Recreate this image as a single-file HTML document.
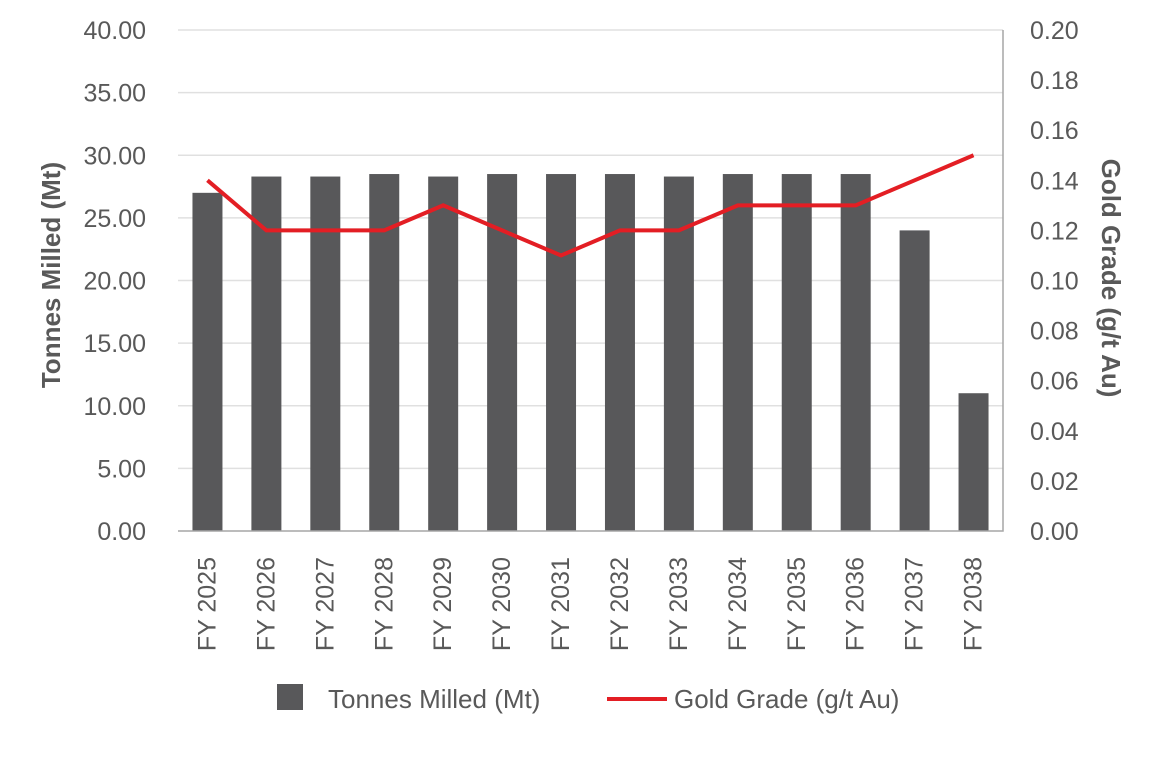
<!DOCTYPE html>
<html><head><meta charset="utf-8"><style>
body{margin:0;background:#fff;font-family:"Liberation Sans",Arial,sans-serif;}
svg text{font-family:"Liberation Sans",Arial,sans-serif;fill:#595959;}
</style></head><body>
<svg id="c" width="1164" height="754"></svg>
<script>
const categories=["FY 2025","FY 2026","FY 2027","FY 2028","FY 2029","FY 2030","FY 2031","FY 2032","FY 2033","FY 2034","FY 2035","FY 2036","FY 2037","FY 2038"];
const tonnes=[27.0,28.3,28.3,28.5,28.3,28.5,28.5,28.5,28.3,28.5,28.5,28.5,24.0,11.0];
const grade=[0.14,0.12,0.12,0.12,0.13,0.12,0.11,0.12,0.12,0.13,0.13,0.13,0.14,0.15];
const leftTicks=["0.00","5.00","10.00","15.00","20.00","25.00","30.00","35.00","40.00"];
const rightTicks=["0.00","0.02","0.04","0.06","0.08","0.10","0.12","0.14","0.16","0.18","0.20"];
const NS="http://www.w3.org/2000/svg";
const svg=document.getElementById('c');
const X0=178,X1=1003,Y0=531,Y1=30;
const bw=(X1-X0)/categories.length;
const yL=v=>Y0-(v/40)*(Y0-Y1);
const yR=v=>Y0-(v/0.2)*(Y0-Y1);
const xC=i=>X0+bw*(i+0.5);
function el(t,a,txt){const e=document.createElementNS(NS,t);for(const k in a)e.setAttribute(k,a[k]);if(txt!=null)e.textContent=txt;svg.appendChild(e);return e;}
leftTicks.forEach(t=>{const v=parseFloat(t);const y=yL(v);
 if(v>0){const g=el('line',{x1:X0,x2:X1,y1:y,y2:y,stroke:'#e0e0e0','stroke-width':1.5});
 
 }
 const tx=el('text',{x:146,y:y+9,'text-anchor':'end','font-size':25},t);
 
 });
rightTicks.forEach(t=>{const y=yR(parseFloat(t));
 const tx=el('text',{x:1030,y:y+9,'font-size':25},t);
 
 });
tonnes.forEach((v,i)=>{const b=el('rect',{x:xC(i)-15,y:yL(v),width:30,height:Y0-yL(v),fill:'#58585a'});
 
 });
const ax=el('path',{d:`M${X0} ${Y0}H${X1}V${Y1}`,stroke:'#a6a6a6','stroke-width':1.5,fill:'none'});


const ln=el('polyline',{points:grade.map((v,i)=>xC(i)+','+yR(v)).join(' '),stroke:'#e31e24','stroke-width':4,fill:'none'});


categories.forEach((c,i)=>{const x=xC(i)+8;const t=el('text',{x:x,y:557,'font-size':25,'text-anchor':'end',transform:`rotate(-90 ${x} 557)`},c);
 
 });
const yl=el('text',{x:60,y:275,'font-size':26,'font-weight':'bold','text-anchor':'middle',transform:'rotate(-90 60 275)'},'Tonnes Milled (Mt)');


const yr=el('text',{x:1102,y:278,'font-size':26,'font-weight':'bold','text-anchor':'middle',transform:'rotate(90 1102 278)'},'Gold Grade (g/t Au)');


const lb=el('rect',{x:277,y:684,width:26,height:26,fill:'#58585a'});


const lt=el('text',{x:328,y:708,'font-size':26},'Tonnes Milled (Mt)');


const ll=el('line',{x1:607,x2:667,y1:699,y2:699,stroke:'#e31e24','stroke-width':4});


const lg=el('text',{x:674,y:708,'font-size':26},'Gold Grade (g/t Au)');


</script>
</body></html>
